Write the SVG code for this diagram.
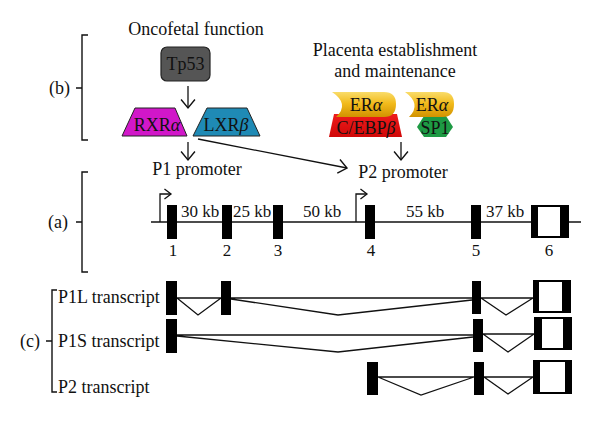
<svg xmlns="http://www.w3.org/2000/svg" width="600" height="422" viewBox="0 0 600 422">
<defs>
  <linearGradient id="gold" x1="0" y1="0" x2="0" y2="1">
    <stop offset="0" stop-color="#f9dc6a"/>
    <stop offset="0.45" stop-color="#f2bb1c"/>
    <stop offset="1" stop-color="#d29200"/>
  </linearGradient>
  <linearGradient id="red" x1="0" y1="0" x2="0" y2="1">
    <stop offset="0" stop-color="#ee1c1c"/>
    <stop offset="1" stop-color="#d00808"/>
  </linearGradient>
  <marker id="ah" markerUnits="userSpaceOnUse" markerWidth="12" markerHeight="16" refX="8" refY="6.5" orient="auto" viewBox="-1 -1 11 15">
    <path d="M0,0 L8,6.5 L0,13" fill="none" stroke="#111" stroke-width="1.3"/>
  </marker>
  <marker id="ahs" markerUnits="userSpaceOnUse" markerWidth="10" markerHeight="12" refX="6" refY="4.5" orient="auto" viewBox="-1 -1 9 11">
    <path d="M0,0 L6,4.5 L0,9" fill="none" stroke="#111" stroke-width="1.2"/>
  </marker>
</defs>
<style>
  text { font-family: "Liberation Serif", "Times New Roman", serif; fill: #111; }
  .lbl { font-size: 18px; }
  .kb { font-size: 17px; }
  .num { font-size: 17px; text-anchor: middle; }
  .nodet { font-size: 18px; text-anchor: middle; }
  .greek { font-style: italic; }
  .ln { stroke: #111; stroke-width: 1.3; fill: none; }
  .ex { fill: #000; }
  .wh { fill: #fff; }
  .br { stroke: #111; stroke-width: 1.4; fill: none; }
</style>
<rect width="600" height="422" fill="#fff"/>

<!-- Brackets -->
<g id="bracket-b">
  <path class="br" d="M88,35 H82 V140 H88 M76,88 H82"/>
  <text class="lbl" x="49" y="94">(b)</text>
</g>
<g id="bracket-a">
  <path class="br" d="M88,172 H82 V272 H88 M76,222 H82"/>
  <text class="lbl" x="48" y="228">(a)</text>
</g>
<g id="bracket-c">
  <path class="br" d="M57,290 H52 V392 H57 M46,341 H52"/>
  <text class="lbl" x="20" y="347">(c)</text>
</g>

<!-- Section titles -->
<text class="nodet" x="196" y="35">Oncofetal function</text>
<text class="nodet" x="395" y="56">Placenta establishment</text>
<text class="nodet" x="395" y="77">and maintenance</text>

<g id="tp53">
  <rect x="161" y="47" width="49" height="34" rx="6" fill="#555" stroke="#222" stroke-width="1.2"/>
  <text class="nodet" x="185.5" y="70" font-size="17">Tp53</text>
</g>
<g id="rxra">
  <polygon points="122,136 135,108 175,108 187,136" fill="#d117c9" stroke="#222" stroke-width="1"/>
  <text class="nodet" x="157" y="131">RXR<tspan class="greek">α</tspan></text>
</g>
<g id="lxrb">
  <polygon points="193,136 207,108 247,108 260,136" fill="#1f8ab5" stroke="#222" stroke-width="1"/>
  <text class="nodet" x="226" y="131">LXR<tspan class="greek">β</tspan></text>
</g>
<g id="cebpb">
  <polygon points="329,137 334,114 397,114 402,137" fill="url(#red)"/>
  <text class="nodet" x="366" y="134">C/EBP<tspan class="greek">β</tspan></text>
</g>
<g id="era1">
  <path d="M332,92 H384 Q396,92 396,104 Q396,117 384,117 H336 Q350,104 332,92 Z" fill="url(#gold)"/>
  <text class="nodet" x="366" y="111">ER<tspan class="greek">α</tspan></text>
</g>
<g id="sp1">
  <polygon points="417,127 424,116 446,116 453,127 446,137 424,137" fill="#1e9a44"/>
  <text class="nodet" x="435" y="134" font-size="17">SP1</text>
</g>
<g id="era2">
  <path d="M405,92 H443 Q454,92 454,104 Q454,117 443,117 H409 Q422,104 405,92 Z" fill="url(#gold)"/>
  <text class="nodet" x="432" y="111">ER<tspan class="greek">α</tspan></text>
</g>

<g id="p1-promoter"><text class="nodet" x="197" y="175">P1 promoter</text></g>
<g id="p2-promoter"><text class="nodet" x="403" y="178">P2 promoter</text></g>

<!-- Connectors -->
<g id="connectors">
  <line class="ln" x1="188" y1="86" x2="188" y2="108" marker-end="url(#ah)"/>
  <line class="ln" x1="188" y1="142" x2="188" y2="160" marker-end="url(#ah)"/>
  <line class="ln" x1="198" y1="139" x2="347" y2="168" marker-end="url(#ah)"/>
  <line class="ln" x1="401" y1="142" x2="401" y2="160" marker-end="url(#ah)"/>
</g>

<!-- Genomic map (a) -->
<g id="gene">
  <line class="ln" x1="151" y1="222" x2="581" y2="222"/>
  <path class="ln" d="M160,222 V194 H171" marker-end="url(#ahs)"/>
  <path class="ln" d="M356,222 V194 H367" marker-end="url(#ahs)"/>
  <rect class="ex" x="167" y="205" width="10" height="34"/>
  <rect class="ex" x="222" y="205" width="10" height="34"/>
  <rect class="ex" x="273" y="205" width="10" height="34"/>
  <rect class="ex" x="365" y="205" width="10" height="34"/>
  <rect class="ex" x="471" y="205" width="10" height="34"/>
  <rect class="ex" x="531" y="205" width="38" height="33"/>
  <rect class="wh" x="538" y="207" width="22" height="29"/>
  <text class="kb" x="181" y="217">30 kb</text>
  <text class="kb" x="233" y="217">25 kb</text>
  <text class="kb" x="303" y="217">50 kb</text>
  <text class="kb" x="406" y="217">55 kb</text>
  <text class="kb" x="486" y="217">37 kb</text>
  <text class="num" x="173" y="256">1</text>
  <text class="num" x="227" y="256">2</text>
  <text class="num" x="278" y="256">3</text>
  <text class="num" x="371" y="256">4</text>
  <text class="num" x="476" y="256">5</text>
  <text class="num" x="549" y="256">6</text>
</g>

<!-- Transcripts (c) -->
<g id="p1l">
  <text class="lbl" x="58" y="303">P1L transcript</text>
  <path class="ln" d="M177,298 H221 M177,298 L198,315 L221,298 M231,298 H472 M231,299 L338,315 L472,300 M481,298 H533 M481,298 L506,315 L533,298"/>
  <rect class="ex" x="166" y="281" width="11" height="34"/>
  <rect class="ex" x="221" y="281" width="10" height="34"/>
  <rect class="ex" x="472" y="281" width="9" height="33"/>
  <rect class="ex" x="533" y="280" width="38" height="33"/>
  <rect class="wh" x="539" y="282" width="23" height="29"/>
</g>
<g id="p1s">
  <text class="lbl" x="58" y="347">P1S transcript</text>
  <path class="ln" d="M177,335 H473 M177,336 L338,352 L473,337 M483,334 H534 M483,334 L508,352 L534,334"/>
  <rect class="ex" x="166" y="319" width="11" height="34"/>
  <rect class="ex" x="473" y="319" width="10" height="33"/>
  <rect class="ex" x="534" y="317" width="38" height="33"/>
  <rect class="wh" x="542" y="319" width="21" height="29"/>
</g>
<g id="p2t">
  <text class="lbl" x="58" y="393">P2 transcript</text>
  <path class="ln" d="M378,377 H474 M378,377 L421,395 L474,377 M484,377 H533 M484,377 L508,394 L533,377"/>
  <rect class="ex" x="367" y="362" width="11" height="33"/>
  <rect class="ex" x="474" y="362" width="10" height="33"/>
  <rect class="ex" x="533" y="360" width="39" height="34"/>
  <rect class="wh" x="540" y="362" width="25" height="30"/>
</g>
</svg>
